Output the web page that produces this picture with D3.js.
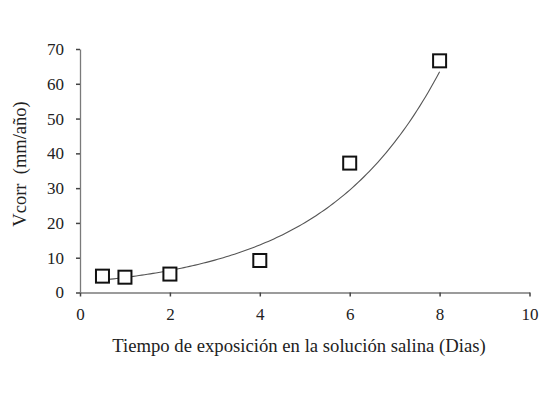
<!DOCTYPE html>
<html>
<head>
<meta charset="utf-8">
<script src="https://cdn.jsdelivr.net/npm/d3@7"></script>
<style>
  body { margin: 0; background: #fff; }
</style>
</head>
<body>
<div id="chart"></div>
<script>
// measured points
let days = [0.5, 1, 2, 4, 6, 8]
let vcorr = [4.7, 4.4, 5.3, 9.2, 37.2, 66.6]
let x_ticks = [0, 2, 4, 6, 8, 10]
let y_ticks = [0, 10, 20, 30, 40, 50, 60, 70]

let width = 553
let height = 395
let font = "'Liberation Serif', 'Times New Roman', serif"

// plot area
let plot_left = 80, plot_right = 529.5, plot_top = 49, plot_bottom = 292.5

let x = d3.scaleLinear().domain([0, 10]).range([plot_left, plot_right])
let y = d3.scaleLinear().domain([0, 70]).range([plot_bottom, plot_top])

// exponential trendline y = a*exp(b*x), least squares on ln(y)
let lny = vcorr.map(Math.log)
let mx = d3.mean(days), my = d3.mean(lny)
let b = d3.sum(days, (d, i) => (d - mx) * (lny[i] - my)) / d3.sum(days, d => (d - mx) ** 2)
let a = Math.exp(my - b * mx)
let fit = d3.range(0, 121).map(i => {
  let xv = days[0] + (days[days.length - 1] - days[0]) * i / 120
  return [xv, a * Math.exp(b * xv)]
})

let svg = d3.select("#chart").append("svg")
  .attr("width", width)
  .attr("height", height)
  .attr("viewBox", [0, 0, width, height])

let axis_color = "#7a7a7a"

// x axis
let gx = svg.append("g")
  .attr("transform", `translate(0,${plot_bottom})`)
  .call(d3.axisBottom(x).tickValues(x_ticks).tickSize(4).tickSizeOuter(0))
gx.select(".domain").attr("stroke", axis_color).attr("stroke-width", 1.3)
gx.selectAll(".tick line").attr("stroke", "#444").attr("stroke-width", 1.5)
gx.selectAll(".tick text")
  .attr("font-family", font).attr("font-size", 17).attr("fill", "#222")
  .attr("y", 0).attr("dy", 0)
  .attr("transform", "translate(0,27)")

// y axis
let gy = svg.append("g")
  .attr("transform", `translate(${plot_left},0)`)
  .call(d3.axisLeft(y).tickValues(y_ticks).tickSize(4).tickSizeOuter(0))
gy.select(".domain").attr("stroke", axis_color).attr("stroke-width", 1.3)
gy.selectAll(".tick line").attr("stroke", "#444").attr("stroke-width", 1.5)
gy.selectAll(".tick text")
  .attr("font-family", font).attr("font-size", 17).attr("fill", "#222")
  .attr("x", -16)

// trendline
svg.append("path")
  .datum(fit)
  .attr("fill", "none")
  .attr("stroke", "#555")
  .attr("stroke-width", 1.1)
  .attr("d", d3.line().x(d => x(d[0])).y(d => y(d[1])))

// markers
let s = 13
svg.selectAll(".pt")
  .data(days)
  .join("rect")
  .attr("class", "pt")
  .attr("x", d => x(d) - s / 2)
  .attr("y", (d, i) => y(vcorr[i]) - s / 2)
  .attr("width", s)
  .attr("height", s)
  .attr("fill", "#fff")
  .attr("stroke", "#111")
  .attr("stroke-width", 2)

// axis titles
svg.append("text")
  .attr("x", 299)
  .attr("y", 352)
  .attr("text-anchor", "middle")
  .attr("font-family", font).attr("font-size", 18.7).attr("fill", "#222")
  .text("Tiempo de exposición en la solución salina (Dias)")

svg.append("text")
  .attr("transform", `translate(26,164) rotate(-90)`)
  .attr("text-anchor", "middle")
  .attr("font-family", font).attr("font-size", 18.5).attr("fill", "#222")
  .attr("xml:space", "preserve")
  .text("Vcorr  (mm/año)")
</script>
</body>
</html>
